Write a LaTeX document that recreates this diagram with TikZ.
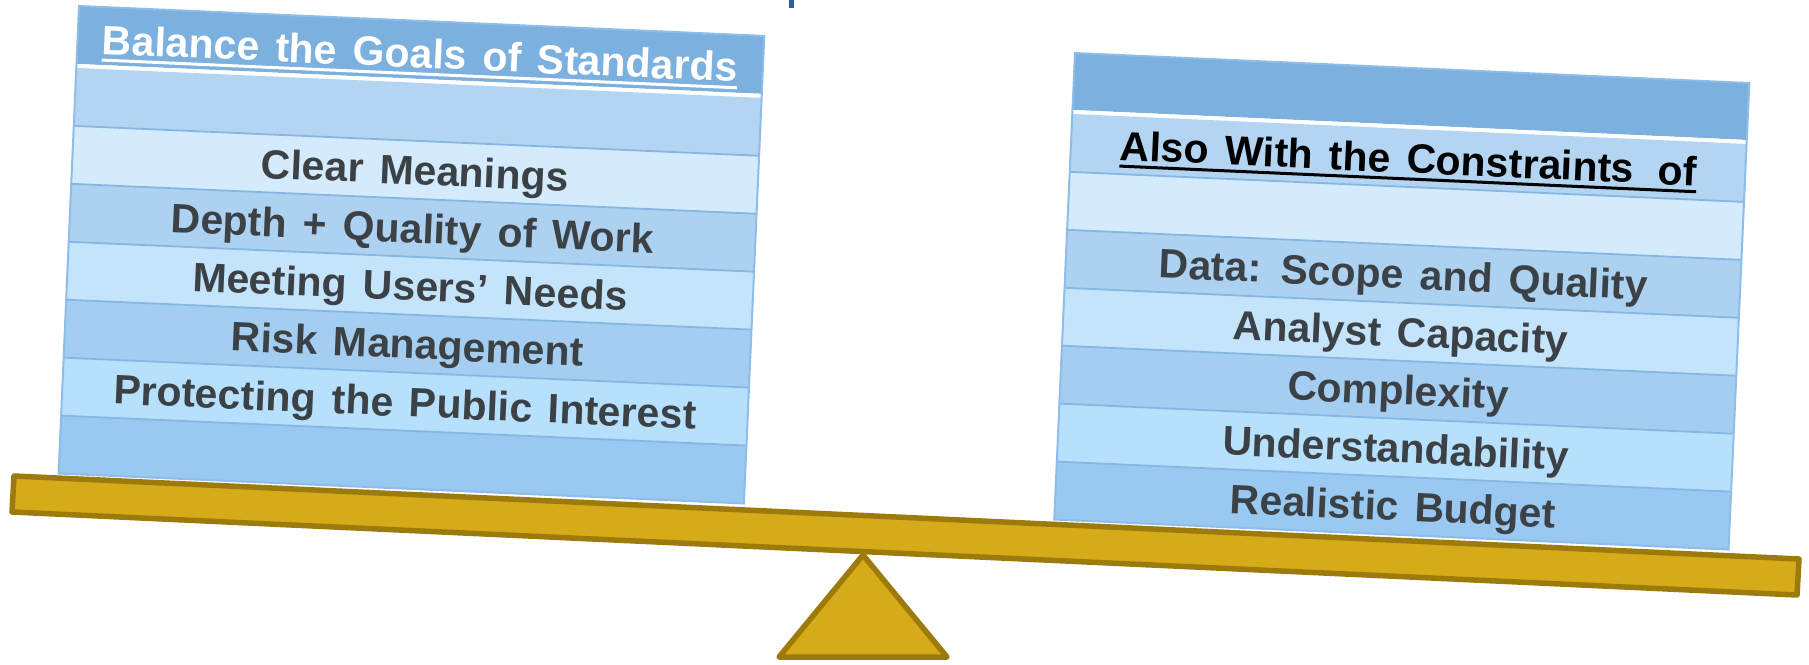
\documentclass[tikz,border=0pt]{standalone}
\usepackage{fontspec}
\setmainfont{Liberation Sans}
\definecolor{hdr}{HTML}{7BB0DF}
\definecolor{ra}{HTML}{B3D5F1}
\definecolor{rb}{HTML}{D3EBFC}
\definecolor{rc}{HTML}{ACD1F1}
\definecolor{rd}{HTML}{C4E4FB}
\definecolor{re}{HTML}{A4CEF1}
\definecolor{rf}{HTML}{B7E0FD}
\definecolor{rg}{HTML}{99C9F1}
\definecolor{sepblue}{HTML}{86B7E3}
\definecolor{edgeblue}{HTML}{8DBDE8}
\definecolor{itemgray}{HTML}{3C4146}
\definecolor{goldfill}{HTML}{D6AB19}
\definecolor{goldline}{HTML}{9C7A0B}
\definecolor{markblue}{HTML}{2F5E9C}
\newsavebox\ulbox
\newcommand\ulx[1]{\sbox\ulbox{#1}\rlap{\rule[-7.5pt]{\wd\ulbox}{3pt}}\usebox\ulbox}
\newcommand\itemfont{\fontsize{41}{49}\selectfont\bfseries\spaceskip=16pt plus 2pt minus 2pt\relax}
\tikzset{
  itemtxt/.style={transform shape, anchor=base, inner sep=0pt, font=\itemfont, text=itemgray},
  hdrtxt/.style={transform shape, anchor=base, inner sep=0pt, font=\itemfont},
  sepline/.style={draw=sepblue, line width=1.8pt},
  boxedge/.style={draw=edgeblue, line width=2pt},
  goldshape/.style={fill=goldfill, draw=goldline, line width=5.5pt, line join=round},
}
\begin{document}
\begin{tikzpicture}[x=1pt,y=1pt]
\useasboundingbox (0,0) rectangle (1809,-664);
% small fragment at top
\fill[markblue] (789,0) rectangle (794,-8);
% fulcrum and beam
\draw[goldshape] (863,-555) -- (947,-657) -- (779,-657) -- cycle;
\draw[goldshape] (14,-476) -- (1799,-559) -- (1797,-595) -- (12,-512) -- cycle;
% left table
\begin{scope}[shift={(79,-6)}, rotate=-2.5]
  \fill[hdr] (0,0) rectangle (686,-58);
  \fill[white] (0,-58) rectangle (686,-62);
  \foreach \c [count=\k from 0] in {ra,rb,rc,rd,re,rf,rg}
    \fill[\c] (0,{-62-58*\k}) rectangle (686,{-62-58*(\k+1)});
  \foreach \k in {1,...,6}
    \draw[sepline] (0,{-62-58*\k}) -- (686,{-62-58*\k});
  \draw[boxedge] (0,0) rectangle (686,-468);
  \node[hdrtxt, text=white] (lh) at (343,-47) {\ulx{Balance the Goals of Standards}};
  \node[itemtxt] (l2) at (343,{-62-58*1-44}) {Clear Meanings};
  \node[itemtxt] (l3) at (343,{-62-58*2-44}) {Depth + Quality of Work};
  \node[itemtxt] (l4) at (343,{-62-58*3-44}) {Meeting Users’ Needs};
  \node[itemtxt] (l5) at (343,{-62-58*4-44}) {Risk Management};
  \node[itemtxt] (l6) at (343,{-62-58*5-44}) {Protecting the Public Interest};
\end{scope}
% right table
\begin{scope}[shift={(1075,-53)}, rotate=-2.55]
  \fill[hdr] (0,0) rectangle (675,-57);
  \fill[white] (0,-57) rectangle (675,-61);
  \foreach \c [count=\k from 0] in {ra,rb,rc,rd,re,rf,rg}
    \fill[\c] (0,{-61-58*\k}) rectangle (675,{-61-58*(\k+1)});
  \foreach \k in {1,...,6}
    \draw[sepline] (0,{-61-58*\k}) -- (675,{-61-58*\k});
  \draw[boxedge] (0,0) rectangle (675,-467);
  \node[hdrtxt, text=black] (rh) at (338,{-61-44}) {\ulx{Also With the Constraints\hspace{8pt} of}};
  \node[itemtxt] (r3) at (338,{-61-58*2-44}) {Data: Scope and Quality};
  \node[itemtxt] (r4) at (338,{-61-58*3-44}) {Analyst Capacity};
  \node[itemtxt] (r5) at (338,{-61-58*4-44}) {Complexity};
  \node[itemtxt] (r6) at (338,{-61-58*5-44}) {Understandability};
  \node[itemtxt] (r7) at (338,{-61-58*6-44}) {Realistic Budget};
\end{scope}
\end{tikzpicture}
\end{document}
